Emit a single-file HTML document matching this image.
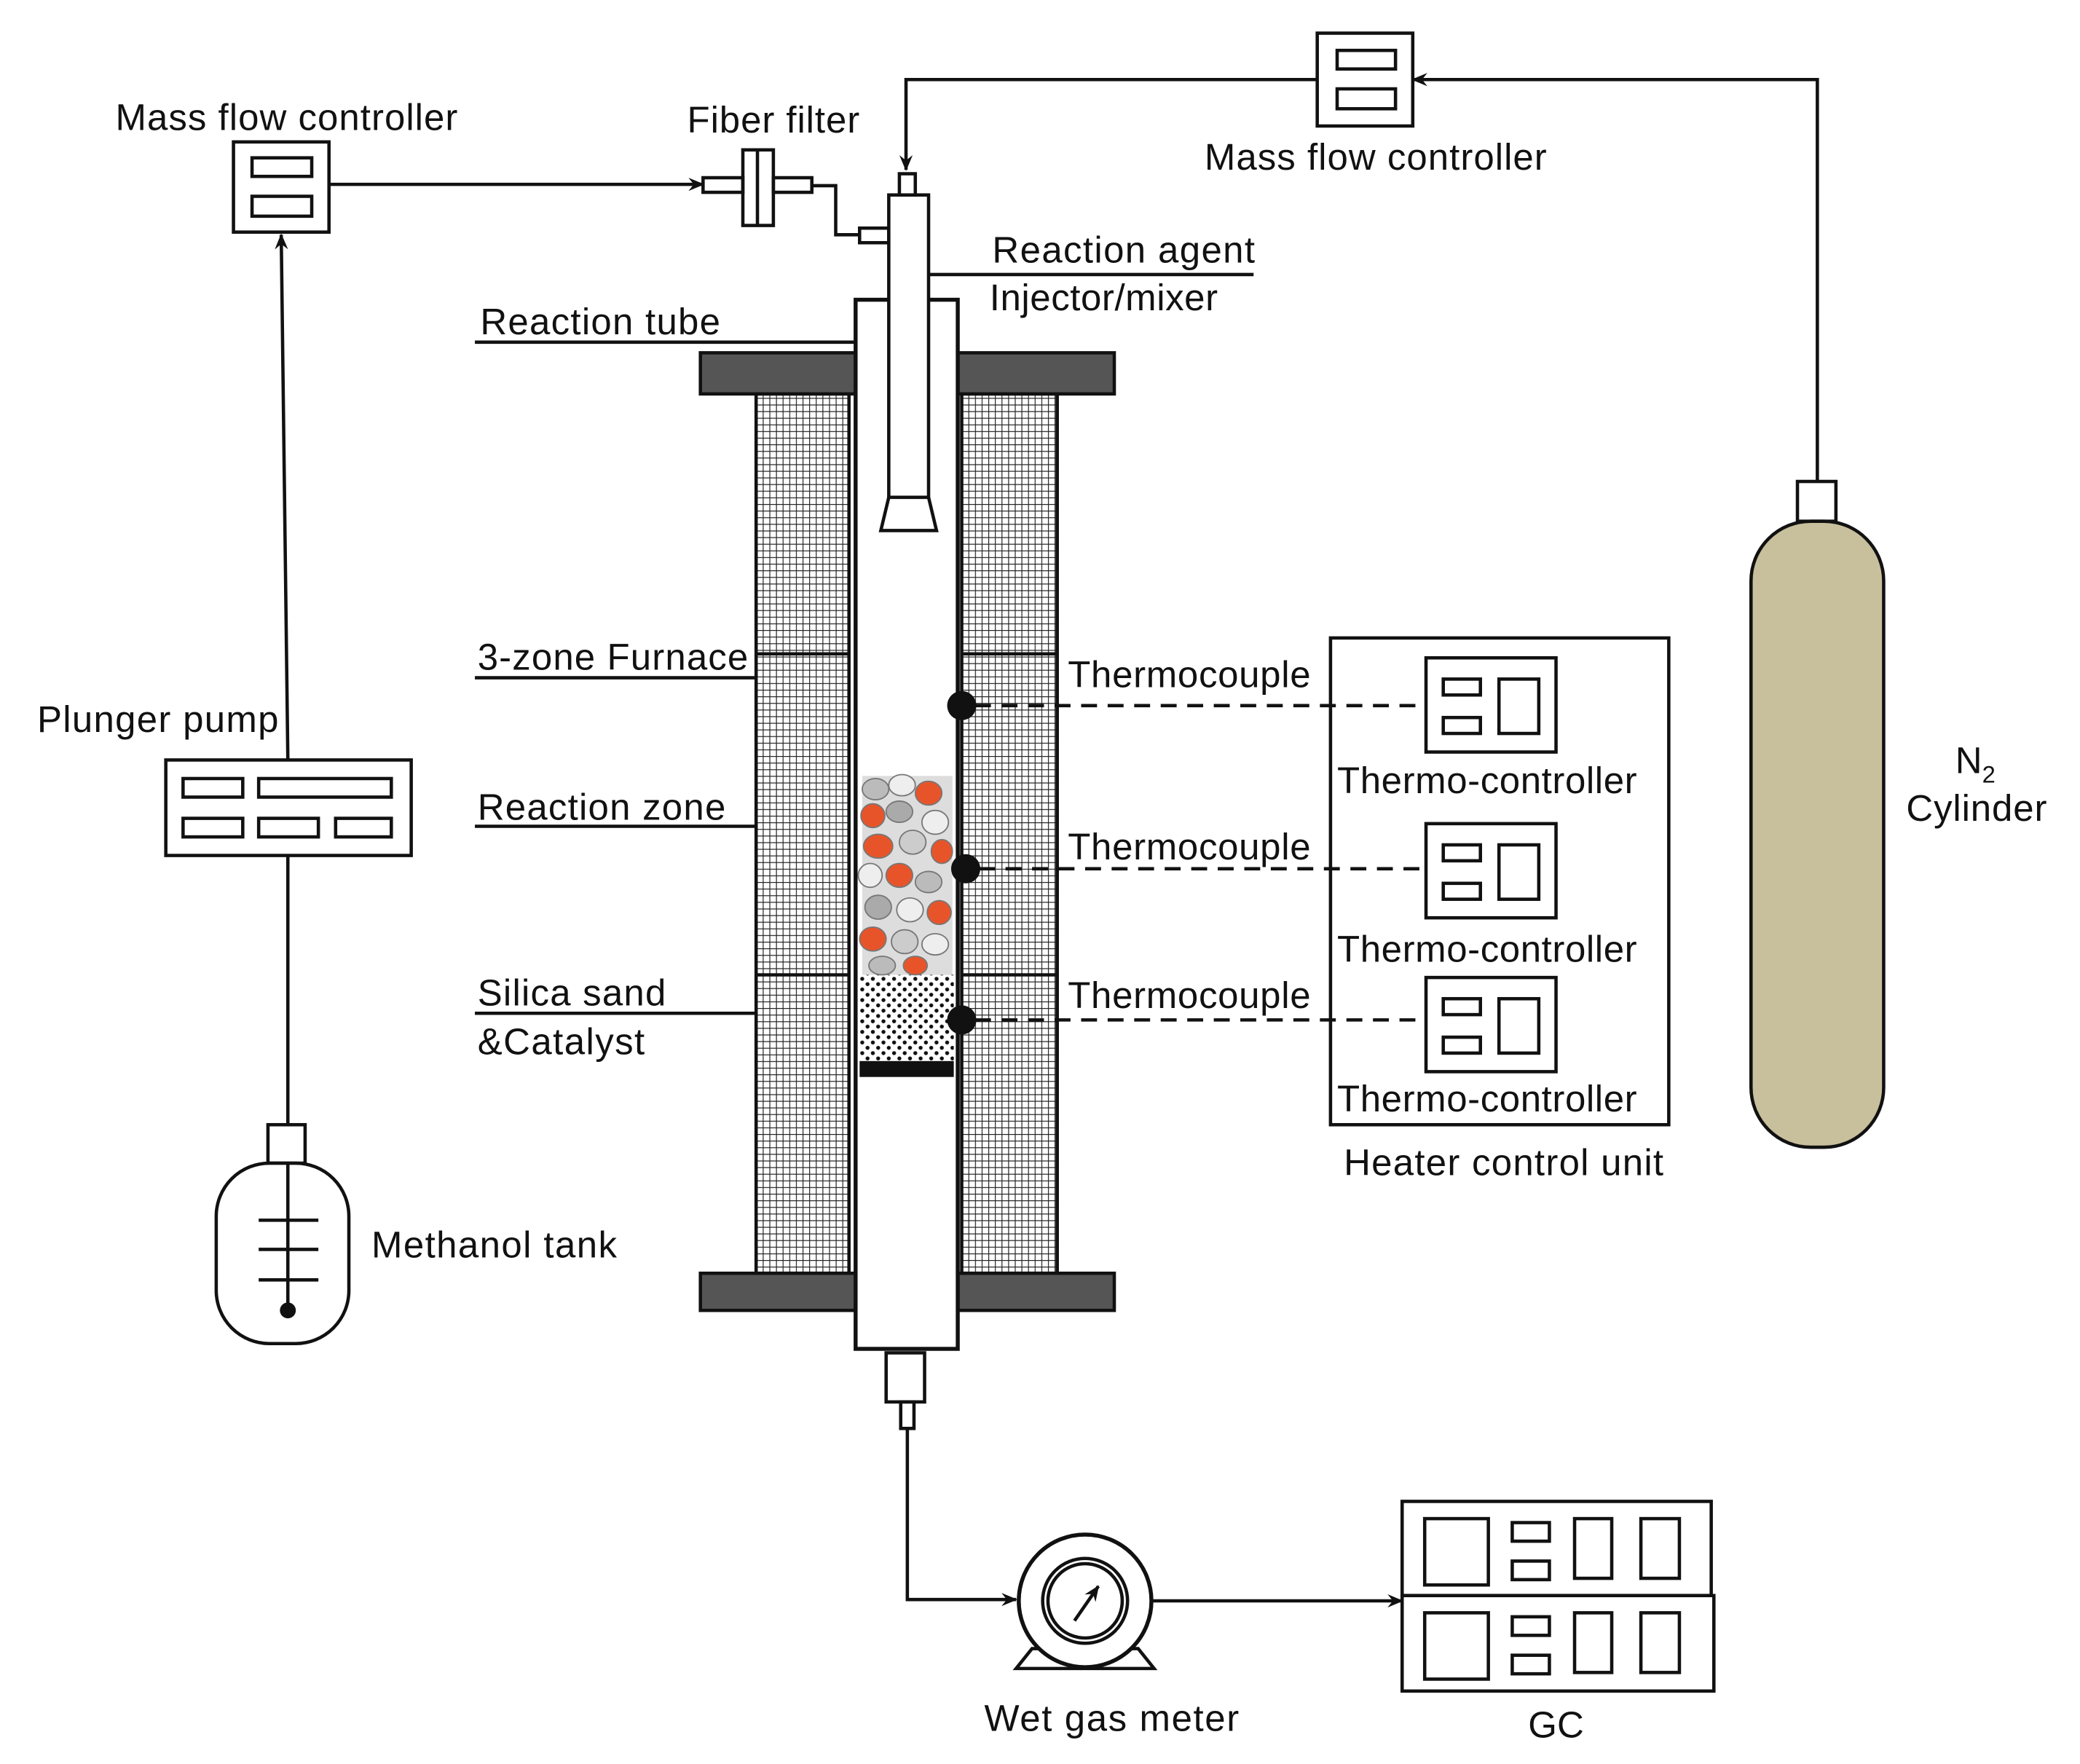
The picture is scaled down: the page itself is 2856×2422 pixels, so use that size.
<!DOCTYPE html>
<html><head><meta charset="utf-8"><style>html,body{margin:0;padding:0;background:#fff}svg{display:block}text{font-family:"Liberation Sans",Arial,sans-serif;font-size:28px;fill:#111}</style></head><body>
<svg width="2856" height="2422" viewBox="0 0 1568 1330" preserveAspectRatio="none" xmlns="http://www.w3.org/2000/svg">
<defs>
<pattern id="grid" width="5" height="5" patternUnits="userSpaceOnUse"><rect width="5" height="5" fill="#fff"/><path d="M0 0H5M0 0V5" stroke="#222" stroke-width="1.3"/></pattern>
<pattern id="sand" width="8" height="8" patternUnits="userSpaceOnUse"><rect width="8" height="8" fill="#fff"/><circle cx="2" cy="2" r="1.5" fill="#111"/><circle cx="6" cy="6" r="1.5" fill="#111"/></pattern>
<marker id="ar" markerWidth="12" markerHeight="10" refX="11" refY="5" orient="auto" markerUnits="userSpaceOnUse"><path d="M0 0L12 5L0 10L4 5Z" fill="#111"/></marker>
</defs>
<g stroke="#111" stroke-width="2.5" fill="none">
<rect x="176" y="107" width="72" height="68" fill="#fff"/>
<rect x="190" y="119" width="45" height="14"/><rect x="190" y="148" width="45" height="15"/>
<path d="M248 139H530" marker-end="url(#ar)"/>
<rect x="530" y="134" width="30" height="11"/><rect x="560" y="113" width="23" height="57"/><line x1="571" y1="113" x2="571" y2="170"/><rect x="583" y="134" width="29" height="11"/>
<path d="M612 140H630V177H648"/><rect x="648" y="172" width="22" height="11"/>
<path d="M1370 362V60H1065" marker-end="url(#ar)"/>
<path d="M993 60H683V128" marker-end="url(#ar)"/>
<rect x="993" y="25" width="72" height="70" fill="#fff"/>
<rect x="1008" y="38" width="44" height="14"/><rect x="1008" y="67" width="44" height="15"/>
<rect x="570" y="297" width="70" height="663" fill="url(#grid)"/>
<rect x="725" y="297" width="72" height="663" fill="url(#grid)"/>
<line x1="570" y1="493" x2="640" y2="493"/><line x1="725" y1="493" x2="797" y2="493"/>
<line x1="570" y1="735" x2="640" y2="735"/><line x1="725" y1="735" x2="797" y2="735"/>
<rect x="528" y="266" width="312" height="31" fill="#555"/>
<rect x="528" y="960" width="312" height="28" fill="#555"/>
<rect x="645" y="226" width="77" height="791" fill="#fff" stroke-width="3"/>
<rect x="648" y="735" width="71" height="65" fill="url(#sand)" stroke="none"/>
<rect x="648" y="800" width="71" height="12" fill="#111" stroke="none"/>
<rect x="670" y="147" width="30" height="228" fill="#fff"/>
<rect x="678" y="131" width="12" height="16" fill="#fff"/>
<path d="M670 375H700L706 400H664Z" fill="#fff"/>
<path d="M700 207H945"/><path d="M358 258H645"/><path d="M358 511H570"/><path d="M358 623H570"/><path d="M358 764H570"/>
<g stroke-dasharray="12 8"><path d="M735 532H1073"/><path d="M738 655H1073"/><path d="M735 769H1073"/></g>
<rect x="1003" y="481" width="255" height="367"/>
<rect x="1075" y="496" width="98" height="71"/><rect x="1088" y="512" width="28" height="12"/><rect x="1088" y="541" width="28" height="12"/><rect x="1130" y="512" width="30" height="41"/>
<rect x="1075" y="621" width="98" height="71"/><rect x="1088" y="637" width="28" height="12"/><rect x="1088" y="666" width="28" height="12"/><rect x="1130" y="637" width="30" height="41"/>
<rect x="1075" y="737" width="98" height="71"/><rect x="1088" y="753" width="28" height="12"/><rect x="1088" y="782" width="28" height="12"/><rect x="1130" y="753" width="30" height="41"/>
<rect x="1355" y="363" width="29" height="30" fill="#fff"/>
<rect x="1320" y="393" width="100" height="472" rx="45" fill="#c8bf9c"/>
<path d="M217 848V645"/><path d="M217 573L212 177" marker-end="url(#ar)"/>
<rect x="125" y="573" width="185" height="72" fill="#fff"/>
<rect x="138" y="587" width="45" height="14"/><rect x="195" y="587" width="100" height="14"/>
<rect x="138" y="617" width="45" height="14"/><rect x="195" y="617" width="45" height="14"/><rect x="253" y="617" width="42" height="14"/>
<rect x="202" y="848" width="28" height="29" fill="#fff"/>
<rect x="163" y="877" width="100" height="136" rx="40" fill="#fff"/>
<path d="M195 920H240M195 942H240M195 965H240"/>
<rect x="668" y="1020" width="29" height="37" fill="#fff"/><rect x="679" y="1057" width="10" height="20"/>
<path d="M684 1077V1206H766" marker-end="url(#ar)"/>
<path d="M868 1207H1057" marker-end="url(#ar)"/>
<path d="M778 1243H858L870 1258H766Z" fill="#fff"/>
<circle cx="818" cy="1207" r="50" fill="#fff" stroke-width="3"/>
<circle cx="818" cy="1207" r="32"/><circle cx="818" cy="1207" r="28"/>
<path d="M810 1222L828 1196" marker-end="url(#ar)"/>
<rect x="1057" y="1132" width="233" height="71"/><rect x="1057" y="1203" width="235" height="72"/>
<rect x="1074" y="1145" width="48" height="50"/><rect x="1140" y="1148" width="28" height="14"/><rect x="1140" y="1177" width="28" height="14"/><rect x="1187" y="1145" width="28" height="45"/><rect x="1237" y="1145" width="29" height="45"/>
<rect x="1074" y="1216" width="48" height="50"/><rect x="1140" y="1219" width="28" height="14"/><rect x="1140" y="1248" width="28" height="14"/><rect x="1187" y="1216" width="28" height="45"/><rect x="1237" y="1216" width="29" height="45"/>
</g>
<g stroke="#777" stroke-width="1">
<rect x="650" y="585" width="68" height="150" fill="#ddd" stroke="none"/>
<ellipse cx="660" cy="595" rx="10" ry="8" fill="#bbb"/><ellipse cx="680" cy="592" rx="10" ry="8" fill="#eee"/><ellipse cx="700" cy="598" rx="10" ry="9" fill="#e8542a"/>
<ellipse cx="658" cy="615" rx="9" ry="9" fill="#e8542a"/><ellipse cx="678" cy="612" rx="10" ry="8" fill="#aaa"/><ellipse cx="705" cy="620" rx="10" ry="9" fill="#eee"/>
<ellipse cx="662" cy="638" rx="11" ry="9" fill="#e8542a"/><ellipse cx="688" cy="635" rx="10" ry="9" fill="#ccc"/><ellipse cx="710" cy="642" rx="8" ry="9" fill="#e8542a"/>
<ellipse cx="656" cy="660" rx="9" ry="9" fill="#eee"/><ellipse cx="678" cy="660" rx="10" ry="9" fill="#e8542a"/><ellipse cx="700" cy="665" rx="10" ry="8" fill="#bbb"/>
<ellipse cx="662" cy="684" rx="10" ry="9" fill="#aaa"/><ellipse cx="686" cy="686" rx="10" ry="9" fill="#eee"/><ellipse cx="708" cy="688" rx="9" ry="9" fill="#e8542a"/>
<ellipse cx="658" cy="708" rx="10" ry="9" fill="#e8542a"/><ellipse cx="682" cy="710" rx="10" ry="9" fill="#ccc"/><ellipse cx="705" cy="712" rx="10" ry="8" fill="#eee"/>
<ellipse cx="665" cy="728" rx="10" ry="7" fill="#bbb"/><ellipse cx="690" cy="728" rx="9" ry="7" fill="#e8542a"/>
</g>
<g fill="#111"><circle cx="725" cy="532" r="11"/><circle cx="728" cy="655" r="11"/><circle cx="725" cy="769" r="11"/><circle cx="217" cy="988" r="6"/></g>
<line x1="217" y1="877" x2="217" y2="988" stroke="#111" stroke-width="2.5"/>
<text x="87" y="98" textLength="258">Mass flow controller</text>
<text x="518" y="100" textLength="130">Fiber filter</text>
<text x="908" y="128" textLength="258">Mass flow controller</text>
<text x="748" y="198" textLength="198">Reaction agent</text>
<text x="746" y="234" textLength="172">Injector/mixer</text>
<text x="362" y="252" textLength="181">Reaction tube</text>
<text x="360" y="505" textLength="204">3-zone  Furnace</text>
<text x="28" y="552" textLength="182">Plunger pump</text>
<text x="360" y="618" textLength="187">Reaction zone</text>
<text x="360" y="758" textLength="142">Silica sand</text>
<text x="360" y="795" textLength="126">&amp;Catalyst</text>
<text x="805" y="518" textLength="183">Thermocouple</text>
<text x="805" y="648" textLength="183">Thermocouple</text>
<text x="805" y="760" textLength="183">Thermocouple</text>
<text x="1008" y="598" textLength="226">Thermo-controller</text>
<text x="1008" y="725" textLength="226">Thermo-controller</text>
<text x="1008" y="838" textLength="226">Thermo-controller</text>
<text x="1013" y="886" textLength="241">Heater control  unit</text>
<text x="1474" y="583">N<tspan font-size="18" dy="7">2</tspan></text>
<text x="1437" y="619" textLength="106">Cylinder</text>
<text x="280" y="948" textLength="185">Methanol  tank</text>
<text x="742" y="1305" textLength="192">Wet gas meter</text>
<text x="1152" y="1310">GC</text>
</svg>
</body></html>
